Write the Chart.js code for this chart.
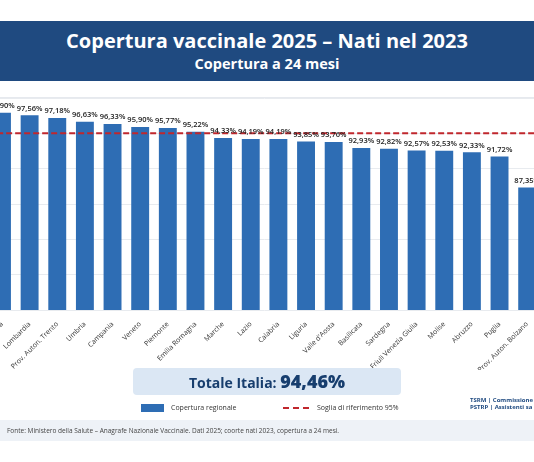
<!DOCTYPE html>
<html>
<head>
<meta charset="utf-8">
<script src="https://cdn.jsdelivr.net/npm/chart.js@4"></script>
<style>
  body { margin:0; width:534px; height:462px; background:#fff; position:relative; overflow:hidden; font-family:"Open Sans", sans-serif; }
  #head { position:absolute; left:0; top:21px; width:534px; height:60px; background:#1f4a80; color:#fff; text-align:center; }
  #head .t { position:absolute; top:6px; width:100%; font-size:20px; font-weight:700; }
  #head .s { position:absolute; top:33px; width:100%; font-size:14.5px; font-weight:700; }
  #panel { position:absolute; left:0; top:97px; width:534px; height:1px; background:#e6e9ee; }
  #wrap { position:absolute; left:-19px; top:76px; width:560px; height:294px; }
  #tot { position:absolute; left:133px; top:368px; width:268px; height:27px; background:#dbe7f4; border-radius:4px; text-align:center; color:#173e6e; font-weight:700; line-height:27px; font-size:14px; }
  #tot b { font-size:18px; }
  .leg { position:absolute; top:403px; font-size:7px; color:#333; }
  #foot { position:absolute; left:0; top:420px; width:534px; height:21px; background:#eef2f7; font-size:6.5px; color:#444; line-height:21px; padding-left:7px; box-sizing:border-box; }
  #logo { position:absolute; left:470px; top:397px; font-size:6px; color:#1f4a80; font-weight:700; line-height:7px; }
</style>
</head>
<body>
<div id="head"><div class="t">Copertura vaccinale 2025 – Nati nel 2023</div><div class="s">Copertura a 24 mesi</div></div>
<div id="panel"></div>
<div id="wrap"><canvas id="c"></canvas></div>
<div id="tot">Totale Italia: <b>94,46%</b></div>
<div class="leg" style="left:141px;"><span style="display:inline-block;width:23px;height:8px;background:#2e6db4;vertical-align:middle;margin-right:7px;"></span>Copertura regionale</div>
<div class="leg" style="left:283px;"><span style="display:inline-block;width:26px;border-top:2px dashed #c0272d;vertical-align:middle;margin-right:8px;"></span>Soglia di riferimento 95%</div>
<div id="logo">TSRM | Commissione<br>PSTRP | Assistenti sa</div>
<div id="foot">Fonte: Ministero della Salute – Anagrafe Nazionale Vaccinale. Dati 2025; coorte nati 2023, copertura a 24 mesi.</div>
<script>
const regions = ["Toscana", "Lombardia", "Prov. Auton. Trento", "Umbria", "Campania", "Veneto", "Piemonte", "Emilia Romagna", "Marche", "Lazio", "Calabria", "Liguria", "Valle d'Aosta", "Basilicata", "Sardegna", "Friuli Venezia Giulia", "Molise", "Abruzzo", "Puglia", "Prov. Auton. Bolzano"];
const coverage = [97.90, 97.56, 97.18, 96.63, 96.33, 95.90, 95.77, 95.22, 94.33, 94.19, 94.19, 93.85, 93.76, 92.93, 92.82, 92.57, 92.53, 92.33, 91.72, 87.35];
const threshold = 95;

const fmt = v => v.toFixed(2).replace(".", ",") + "%";

const extras = {
    id: "extras",
    afterDatasetsDraw(chart) {
        const ctx = chart.ctx, ca = chart.chartArea, ys = chart.scales.y;
        /* reference line */
        const yy = ys.getPixelForValue(threshold);
        ctx.save();
        ctx.strokeStyle = "#c0272d";
        ctx.lineWidth = 2;
        ctx.setLineDash([6, 3]);
        ctx.beginPath();
        ctx.moveTo(ca.left, yy);
        ctx.lineTo(ca.right, yy);
        ctx.stroke();
        ctx.setLineDash([]);
        /* value labels */
        ctx.fillStyle = "#222";
        ctx.font = "600 7.5px 'Open Sans'";
        ctx.textAlign = "center";
        ctx.textBaseline = "bottom";
        chart.getDatasetMeta(0).data.forEach((bar, i) => {
            ctx.fillText(fmt(coverage[i]), bar.x, bar.y - 3);
        });
        ctx.restore();
    }
};

new Chart(document.getElementById("c"), {
    type: "bar",
    data: {
        labels: regions,
        datasets: [{
            label: "Copertura regionale",
            data: coverage,
            backgroundColor: "#2e6db4",
            barPercentage: 0.72,
            categoryPercentage: 0.9
        }]
    },
    options: {
        responsive: true,
        maintainAspectRatio: false,
        animation: false,
        layout: { padding: { top: 22, left: 0, right: 0, bottom: 0 } },
        plugins: { legend: { display: false }, tooltip: { enabled: false } },
        scales: {
            x: {
                grid: { display: false },
                border: { display: false },
                ticks: { minRotation: 45, maxRotation: 45, color: "#333", font: { size: 7, family: "Open Sans" }, padding: 2 },
                afterFit(s) { s.height = 60; }
            },
            y: {
                min: 70, max: 100,
                ticks: { display: false, stepSize: 5 },
                border: { display: false },
                grid: { color: "#e8ebef", drawTicks: false },
                afterFit(s) { s.width = 0; }
            }
        }
    },
    plugins: [extras]
});
</script>
</body>
</html>
